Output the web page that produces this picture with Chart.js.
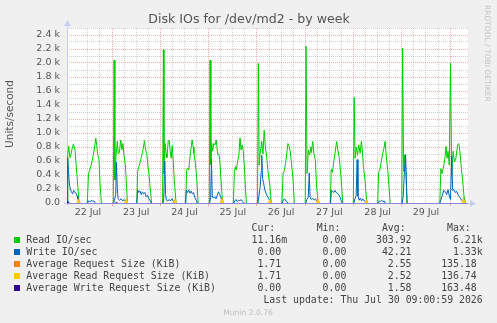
<!DOCTYPE html>
<html>
<head>
<meta charset="utf-8">
<script src="https://cdn.jsdelivr.net/npm/chart.js@4.4.0/dist/chart.umd.min.js"></script>
<style>
  html, body { margin: 0; padding: 0; background: #f0f0f0; }
  canvas { display: block; }
</style>
</head>
<body>
<canvas id="grafico" width="497" height="323"></canvas>
<script>
// Horas contadas desde el 22 jul 00:00 (cada dia = 24)
const diasEtiqueta = ['22 Jul', '23 Jul', '24 Jul', '25 Jul', '26 Jul', '27 Jul', '28 Jul', '29 Jul'];
const yEtiquetas = ['0.0', '0.2 k', '0.4 k', '0.6 k', '0.8 k', '1.0 k', '1.2 k', '1.4 k',
  '1.6 k', '1.8 k', '2.0 k', '2.2 k', '2.4 k'];

const readHoras = [
  1.6, 2.0, 2.4, 3.1, 3.6, 4.2, 4.8, 5.6, 6.5, 7.0, 7.6,
  11.7, 12.3, 12.8, 13.4, 14.2, 15.1, 15.9, 16.4, 16.8, 17.5, 18.0, 18.7,
  24.6, 25.0, 25.4, 25.9, 26.6, 27.1, 27.6, 28.3, 28.9, 29.4, 29.9, 30.6, 31.1, 31.6,
  36.3, 36.7, 37.3, 37.9, 38.5, 39.1, 39.6, 40.1, 40.6, 41.2, 41.8, 42.3, 43.0, 43.6,
  49.1, 49.5, 49.8, 50.4, 50.9, 51.3, 51.9, 52.4, 52.9, 53.4, 53.9, 54.4, 54.9, 55.8,
  60.6, 61.1, 61.6, 62.1, 62.5, 63.0, 63.8, 64.3, 64.7, 65.4, 66.0, 66.8,
  72.3, 72.7, 73.1, 73.5, 74.0, 74.5, 75.2, 75.8, 76.5, 77.0, 77.5, 78.2, 79.0,
  84.3, 84.8, 85.3, 85.8, 86.4, 87.0, 87.6, 88.1, 88.7, 89.2, 89.8, 90.3, 90.8,
  96.3, 96.7, 97.1, 97.7, 98.4, 99.0, 99.6, 100.2, 100.9, 101.5, 102.4, 103.1,
  108.4, 109.0, 109.6, 110.2, 110.8, 111.4, 111.9, 112.6, 113.2, 113.9, 114.6,
  120.0, 120.4, 120.9, 121.6, 122.2, 122.8, 123.1, 123.7, 124.3, 125.0, 125.6, 126.4,
  132.5, 132.9, 133.5, 134.1, 134.8, 135.6, 136.2, 136.9, 137.7, 138.7,
  143.9, 144.3, 144.8, 145.4, 146.0, 146.6, 147.3, 147.9, 148.4, 148.9, 149.7, 150.6,
  156.0, 156.5, 157.1, 157.8, 158.5, 159.1, 159.7, 160.3, 161.0, 161.6, 162.2,
  168.0, 168.4, 168.9, 169.5, 170.0, 170.6,
  186.9, 187.4, 188.0, 188.9, 189.5, 190.0, 190.5, 191.0, 191.6, 192.2, 192.8, 193.5,
  194.2, 194.9, 195.7, 196.3, 196.9, 197.6, 198.3, 198.9, 199.6, 200.9
];
const readValores = [
  0, 700, 815, 650, 700, 780, 845, 750, 420, 220, 0,
  0, 420, 460, 520, 610, 760, 925, 820, 700, 620, 290, 0,
  0, 2040, 330, 660, 880, 700, 720, 900, 760, 850, 690, 550, 300, 0,
  0, 450, 520, 570, 650, 720, 800, 890, 760, 710, 540, 430, 200, 0,
  0, 2190, 420, 850, 700, 650, 880, 900, 740, 640, 820, 600, 330, 0,
  0, 480, 500, 470, 590, 730, 900, 800, 710, 570, 380, 0,
  0, 2040, 550, 850, 740, 850, 830, 900, 690, 700, 620, 300, 0,
  0, 450, 520, 470, 600, 680, 930, 760, 830, 740, 500, 200, 0,
  0, 1995, 540, 740, 880, 700, 1040, 800, 640, 450, 260, 0,
  0, 420, 460, 560, 700, 850, 820, 730, 560, 350, 0,
  0, 2240, 420, 760, 690, 800, 720, 880, 710, 620, 260, 0,
  0, 480, 440, 570, 710, 880, 760, 650, 400, 0,
  0, 1510, 640, 800, 680, 830, 710, 880, 760, 520, 330, 0,
  0, 440, 470, 600, 700, 780, 880, 660, 470, 250, 0,
  0, 2210, 450, 690, 450, 0,
  0, 490, 420, 540, 660, 810, 640, 740, 540, 1995, 400, 740,
  590, 640, 830, 850, 730, 500, 300, 100, 0, 0
];

const writeHoras = [
  1.6, 1.9, 2.3, 2.7, 3.2, 3.8, 4.4, 4.9, 5.5, 6.1, 6.6, 7.0, 7.5,
  11.7, 12.0, 12.6, 13.2, 13.8, 14.4, 15.0, 15.6,
  24.8, 25.2, 25.8, 26.2, 26.6, 27.0, 27.7, 28.5, 29.3, 30.0, 30.8, 31.3,
  36.3, 36.7, 37.3, 37.9, 38.5, 39.1, 39.7, 40.3, 40.9, 41.6, 42.3, 43.0, 43.5,
  49.3, 49.7, 50.2, 50.6, 51.0, 51.7, 52.4, 53.0, 53.8, 54.5, 55.3,
  60.5, 60.9, 61.5, 62.1, 62.7, 63.3, 63.9, 64.5, 65.1, 65.8, 66.4,
  72.5, 73.0, 73.4, 73.8, 74.4, 75.0, 75.6, 76.3, 76.9, 77.5, 78.1, 78.7, 79.3,
  84.5, 85.0, 85.6, 86.2, 86.9, 87.5, 88.1, 88.8, 89.4,
  96.5, 97.0, 97.6, 98.1, 98.4, 98.8, 99.3, 99.8, 100.5, 101.2, 101.9, 102.5, 103.0,
  108.6, 109.1, 109.7, 110.3, 110.9, 111.5,
  120.3, 120.8, 121.5, 122.0, 122.4, 123.0, 123.7, 124.4, 125.1, 125.8, 126.3,
  132.6, 133.0, 133.6, 134.2, 134.8, 135.4, 136.0, 136.6, 137.2, 137.8, 138.4,
  144.2, 144.7, 145.3, 145.8, 146.2, 146.8, 147.4, 148.0, 148.6, 149.3, 150.0, 150.4,
  156.2, 156.8, 157.4, 158.0, 158.6, 159.2, 159.8,
  168.2, 168.7, 169.3, 169.9, 170.3, 170.6,
  186.9, 187.4, 188.0, 188.9, 189.7, 190.3, 191.0, 191.6, 192.2, 192.8, 193.3, 193.9,
  194.5, 195.2, 195.9, 196.6, 197.3, 198.0, 198.7, 200.9
];
const writeValores = [
  0, 650, 480, 300, 200, 160, 130, 180, 150, 140, 100, 60, 0,
  0, 20, 30, 15, 40, 25, 30, 0,
  0, 40, 120, 580, 200, 60, 40, 60, 30, 50, 20, 0,
  0, 190, 150, 170, 120, 160, 130, 150, 90, 110, 60, 30, 0,
  0, 60, 600, 120, 40, 30, 50, 30, 60, 20, 0,
  0, 180, 150, 190, 140, 170, 130, 150, 80, 40, 0,
  0, 80, 620, 100, 70, 90, 60, 110, 160, 120, 80, 40, 0,
  0, 30, 50, 20, 40, 30, 50, 20, 0,
  0, 100, 230, 450, 680, 350, 290, 200, 140, 100, 60, 30, 0,
  0, 40, 60, 30, 20, 0,
  0, 50, 80, 430, 90, 50, 70, 40, 60, 30, 0,
  0, 180, 170, 150, 180, 150, 140, 120, 90, 40, 0,
  0, 60, 100, 620, 100, 40, 70, 30, 60, 30, 20, 0,
  0, 30, 20, 40, 20, 30, 0,
  0, 100, 450, 690, 300, 0,
  0, 40, 100, 180, 160, 120, 190, 100, 50, 670, 180, 190,
  150, 170, 120, 90, 60, 30, 0, 0
];

// Tamaños medios de peticion: casi siempre cero, pequeños picos al final de cada rafaga
const reqHoras = [1.6, 6.9, 7.4, 7.9, 30.6, 31.1, 31.6, 54.8, 55.3, 55.8, 78.2, 78.7, 79.2,
  102.0, 102.5, 103.0, 125.8, 126.3, 126.8, 150.0, 150.5, 151.0, 198.2, 198.7, 199.2, 200.9];
const reqValores = [0, 0, 30, 0, 0, 35, 0, 0, 35, 0, 0, 35, 0, 0, 30, 0, 0, 35, 0, 0, 25, 0, 0, 40, 0, 0];
const readReqValores = [0, 0, 25, 0, 0, 30, 0, 0, 30, 0, 0, 35, 0, 0, 25, 0, 0, 30, 0, 0, 20, 0, 0, 35, 0, 0];
const writeReqHoras = [1.6, 1.8, 2.2, 2.6, 25.8, 26.2, 26.6, 200.9];
const writeReqValores = [0, 0, 20, 0, 0, 15, 0, 0];

const series = [
  { nombre: 'Read IO/sec', color: '#00cc00', cur: '11.16m', min: '0.00', avg: '303.92', max: '6.21k' },
  { nombre: 'Write IO/sec', color: '#0066b3', cur: '0.00', min: '0.00', avg: '42.21', max: '1.33k' },
  { nombre: 'Average Request Size (KiB)', color: '#ff8000', cur: '1.71', min: '0.00', avg: '2.55', max: '135.18' },
  { nombre: 'Average Read Request Size (KiB)', color: '#ffcc00', cur: '1.71', min: '0.00', avg: '2.52', max: '136.74' },
  { nombre: 'Average Write Request Size (KiB)', color: '#330099', cur: '0.00', min: '0.00', avg: '1.58', max: '163.48' }
];

const puntos = (horas, valores) => horas.map((h, i) => ({ x: h, y: valores[i] }));

const GRID_MAYOR = 'rgba(235, 110, 110, 0.55)';
const GRID_MENOR = 'rgba(150, 150, 150, 0.45)';
const EJE = '#c8cdf4';

function fmt(v) {
  return /[a-z]$/i.test(v) ? v : v + ' ';
}

const decoracion = {
  id: 'decoracion',
  beforeDraw(chart) {
    const { ctx, chartArea: a } = chart;
    ctx.save();
    ctx.fillStyle = '#f0f0f0';
    ctx.fillRect(0, 0, chart.width, chart.height);
    ctx.fillStyle = '#ffffff';
    ctx.fillRect(a.left, a.top, a.right - a.left, a.bottom - a.top);
    ctx.restore();
  },
  beforeDatasetsDraw(chart) {
    const { ctx, chartArea: a } = chart;
    ctx.save();
    ctx.strokeStyle = EJE;
    ctx.lineWidth = 1;
    ctx.beginPath();
    ctx.moveTo(a.left + 0.5, a.bottom + 3);
    ctx.lineTo(a.left + 0.5, a.top - 3);
    ctx.moveTo(a.left - 3, a.bottom + 0.5);
    ctx.lineTo(a.right + 3, a.bottom + 0.5);
    ctx.stroke();
    ctx.fillStyle = EJE;
    ctx.beginPath();
    ctx.moveTo(a.left + 0.5, a.top - 8);
    ctx.lineTo(a.left - 3, a.top - 2);
    ctx.lineTo(a.left + 4, a.top - 2);
    ctx.fill();
    ctx.beginPath();
    ctx.moveTo(a.right + 8, a.bottom + 0.5);
    ctx.lineTo(a.right + 2, a.bottom - 3);
    ctx.lineTo(a.right + 2, a.bottom + 4);
    ctx.fill();
    ctx.restore();
  },
  afterDatasetsDraw(chart) {
    // linea de base morada (la serie de escritura en cero) por encima de todo
    const { ctx, chartArea: a } = chart;
    ctx.save();
    ctx.strokeStyle = '#8a86d8';
    ctx.lineWidth = 1;
    ctx.beginPath();
    ctx.moveTo(a.left, a.bottom + 0.5);
    ctx.lineTo(a.right, a.bottom + 0.5);
    ctx.stroke();
    ctx.restore();
  },
  afterDraw(chart) {
    const { ctx } = chart;
    ctx.save();

    // titulo
    ctx.fillStyle = '#555';
    ctx.font = '12.6px "DejaVu Sans"';
    ctx.textAlign = 'center';
    ctx.textBaseline = 'alphabetic';
    ctx.fillText('Disk IOs for /dev/md2 - by week', 249, 23);

    // titulo eje y
    ctx.save();
    ctx.translate(10, 114);
    ctx.rotate(-Math.PI / 2);
    ctx.font = '10.5px "DejaVu Sans"';
    ctx.textBaseline = 'middle';
    ctx.fillText('Units/second', 0, 0);
    ctx.restore();

    // marca de agua lateral
    ctx.save();
    ctx.translate(485, 5);
    ctx.rotate(Math.PI / 2);
    ctx.fillStyle = '#c4c4c4';
    ctx.font = '7.5px "DejaVu Sans"';
    ctx.textAlign = 'left';
    ctx.textBaseline = 'alphabetic';
    ctx.fillText('RRDTOOL / TOBI OETIKER', 0, 0);
    ctx.restore();

    // leyenda
    const x0 = 26.3;
    ctx.font = '9.85px "DejaVu Sans Mono"';
    ctx.textAlign = 'left';
    ctx.fillStyle = '#444';
    const cab = ' '.repeat(38) + 'Cur:' + ' '.repeat(7) + 'Min:' + ' '.repeat(7) + 'Avg:' + ' '.repeat(7) + 'Max:';
    ctx.fillText(cab, x0, 231);
    series.forEach((s, i) => {
      const y = 243 + i * 12;
      ctx.fillStyle = s.color;
      ctx.fillRect(14, y - 6, 6, 6);
      ctx.fillStyle = '#444';
      const fila = s.nombre.padEnd(33) + fmt(s.cur).padStart(11) + fmt(s.min).padStart(11) +
        fmt(s.avg).padStart(11) + fmt(s.max).padStart(11);
      ctx.fillText(fila, x0, y);
    });
    ctx.textAlign = 'right';
    ctx.fillText('Last update: Thu Jul 30 09:00:59 2026', 482.7, 303);

    ctx.fillStyle = '#bdbdbd';
    ctx.font = '7.6px "DejaVu Sans"';
    ctx.textAlign = 'center';
    ctx.fillText('Munin 2.0.76', 248, 315);
    ctx.restore();
  }
};

// los tramos en cero no se pintan: la base la cubre la linea morada
const sinCeros = color => c => (c.p0.parsed.y === 0 && c.p1.parsed.y === 0 ? 'rgba(0,0,0,0)' : color);

const linea = (label, data, color, order, width = 1) => ({
  label, data, borderColor: color, borderWidth: width, pointRadius: 0, tension: 0, fill: false, order,
  segment: { borderColor: sinCeros(color) }
});

new Chart(document.getElementById('grafico'), {
  type: 'line',
  data: {
    datasets: [
      linea('Read IO/sec', puntos(readHoras, readValores), '#00cc00', 5),
      linea('Write IO/sec', puntos(writeHoras, writeValores), '#0066b3', 4),
      linea('Average Request Size (KiB)', puntos(reqHoras, reqValores), '#ff8000', 3, 2),
      linea('Average Read Request Size (KiB)', puntos(reqHoras, readReqValores), '#ffcc00', 2, 2),
      linea('Average Write Request Size (KiB)', puntos(writeReqHoras, writeReqValores), '#330099', 1)
    ]
  },
  options: {
    responsive: false,
    animation: false,
    devicePixelRatio: 1,
    layout: { padding: { top: 28, right: 29, left: 0, bottom: 0 } },
    plugins: { legend: { display: false }, tooltip: { enabled: false } },
    scales: {
      x: {
        type: 'linear',
        min: 1.6,
        max: 200.9,
        afterFit: s => { s.height = 120; },
        afterBuildTicks: s => { s.ticks = s.ticks.filter(t => t.value % 6 === 0); },
        ticks: {
          stepSize: 6,
          autoSkip: false,
          maxRotation: 0,
          padding: 1,
          color: '#555',
          font: { family: 'DejaVu Sans', size: 9.5 },
          callback: v => (v % 24 === 12 ? diasEtiqueta[(v - 12) / 24] : '')
        },
        grid: {
          color: c => (c.tick && c.tick.value % 24 === 0 ? GRID_MAYOR : GRID_MENOR),
          tickColor: c => (c.tick && c.tick.value % 24 === 0 ? GRID_MAYOR : 'rgba(0,0,0,0)'),
          tickLength: 3,
          lineWidth: 1
        },
        border: { display: false, dash: [1, 1] }
      },
      y: {
        min: 0,
        max: 2500,
        afterFit: s => { s.width = 67; },
        ticks: {
          stepSize: 100,
          autoSkip: false,
          padding: 7,
          color: '#555',
          font: { family: 'DejaVu Sans', size: 9.5 },
          callback: v => (v % 200 === 0 ? yEtiquetas[v / 200] : '')
        },
        grid: {
          color: c => (c.tick && c.tick.value % 200 === 0 ? GRID_MAYOR : GRID_MENOR),
          drawTicks: false,
          lineWidth: 1
        },
        border: { display: false, dash: [1, 1] }
      }
    }
  },
  plugins: [decoracion]
});
</script>
</body>
</html>
